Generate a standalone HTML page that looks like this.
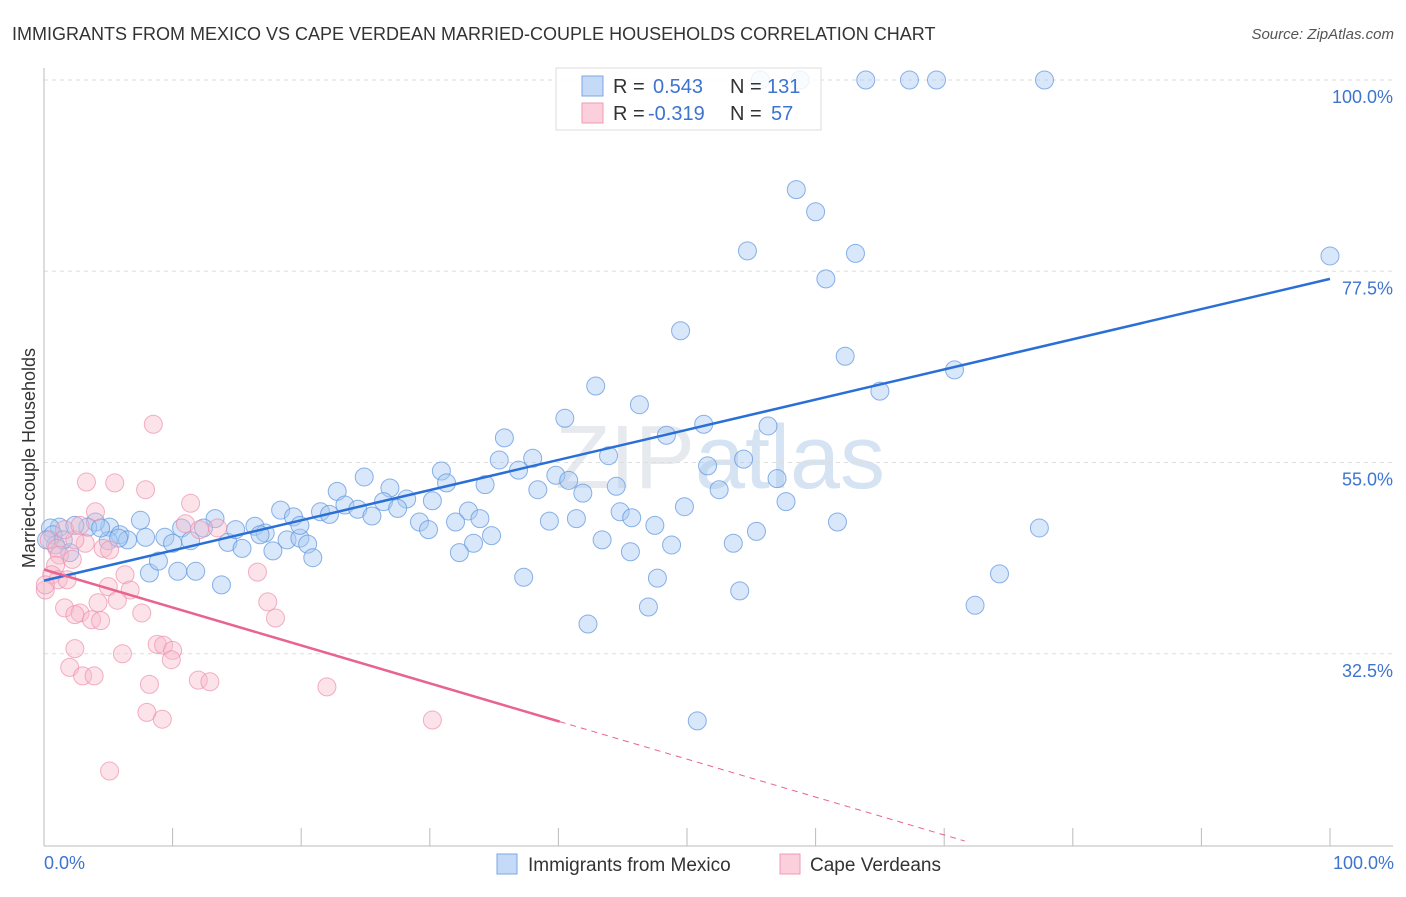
<!DOCTYPE html>
<html><head><meta charset="utf-8"><style>
body{margin:0;background:#fff;font-family:"Liberation Sans",sans-serif;}
svg text{font-family:"Liberation Sans",sans-serif;}
</style></head><body>
<svg id="chart" width="1406" height="892" xmlns="http://www.w3.org/2000/svg">
<text x="12" y="40" font-size="18" fill="#333">IMMIGRANTS FROM MEXICO VS CAPE VERDEAN MARRIED-COUPLE HOUSEHOLDS CORRELATION CHART</text>
<text x="1394" y="39" font-size="15" fill="#555" font-style="italic" text-anchor="end">Source: ZipAtlas.com</text>
<text x="720" y="488" font-size="90" fill="#e6e9ee" text-anchor="middle" font-family="Liberation Serif">ZIP<tspan fill="#d5e3f3" font-family="Liberation Sans">atlas</tspan></text>
<g id="grid"></g>
<g id="axes"></g>
<g id="points"></g>
<g id="trends"></g>
<text transform="translate(35,458) rotate(-90)" font-size="18" fill="#333" text-anchor="middle">Married-couple Households</text>
<text x="44" y="869" font-size="18" fill="#3d74d0">0.0%</text>
<text x="1394" y="869" font-size="18" fill="#3d74d0" text-anchor="end">100.0%</text>
<g>
<rect x="556" y="68" width="265" height="62" fill="#fff" fill-opacity="0.85" stroke="#ddd"/>
<rect x="582" y="76" width="21" height="20" fill="#c5daf6" stroke="#7aa8e6"/>
<rect x="582" y="103" width="21" height="20" fill="#fbd0dc" stroke="#f19bb5"/>
<text x="613" y="93" font-size="20" fill="#333">R = <tspan fill="#3d74d0" x="653">0.543</tspan><tspan x="730" fill="#333">N = </tspan><tspan fill="#3d74d0" x="767">131</tspan></text>
<text x="613" y="120" font-size="20" fill="#333">R = <tspan fill="#3d74d0" x="648">-0.319</tspan><tspan x="730" fill="#333">N = </tspan><tspan fill="#3d74d0" x="771">57</tspan></text>
</g>
<g>
<rect x="497" y="854" width="20" height="20" fill="#c5daf6" stroke="#7aa8e6"/>
<text x="528" y="871" font-size="19" fill="#333">Immigrants from Mexico</text>
<rect x="780" y="854" width="20" height="20" fill="#fbd0dc" stroke="#f19bb5"/>
<text x="810" y="871" font-size="19" fill="#333">Cape Verdeans</text>
</g>
</svg>
<script>
const yTicks=[100,77.5,55,32.5];
const yTickLabels=["100.0%","77.5%","55.0%","32.5%"];
const blueX=[55.7,58.8,63.9,67.3,69.4,77.8,58.5,60.0,54.7,63.1,100,60.8,49.5,62.3,70.8,65.0,42.9,46.3,40.5,51.3,56.3,48.4,35.8,35.4,38.0,43.9,54.4,51.6,36.9,39.8,40.8,57.0,30.9,31.3,34.3,38.4,41.9,52.5,57.7,49.8,44.5,22.8,24.9,26.9,28.2,30.2,26.4,27.5,23.4,24.4,21.5,22.2,18.4,19.4,33.0,29.2,32.0,33.9,39.3,41.4,44.8,45.7,25.5,29.9,47.5,61.7,77.4,55.4,43.4,48.8,53.6,45.6,34.8,33.4,32.3,47.7,37.3,42.3,47.0,54.1,72.4,74.3,50.8,13.3,16.4,12.4,10.7,7.5,7.9,5.1,4.0,3.4,1.2,0.5,2.4,5.9,6.5,5.0,9.4,10.0,11.4,14.3,15.4,17.2,16.8,18.9,19.9,20.5,17.8,20.9,8.2,8.9,10.4,11.8,13.8,0.7,0.9,2.0,0.2,1.5,4.4,5.8,14.9,19.9];
const blueY=[100,100,100,100,100,100,87.1,84.5,79.9,79.6,79.3,76.6,70.5,67.5,65.9,63.4,64.0,61.8,60.2,59.5,59.3,58.2,57.9,55.3,55.5,55.8,55.4,54.6,54.1,53.5,52.9,53.1,54.0,52.6,52.4,51.8,51.4,51.8,50.4,49.8,52.2,51.6,53.3,52.0,50.7,50.5,50.4,49.6,50.0,49.5,49.2,48.9,49.4,48.6,49.3,48.0,48.0,48.4,48.1,48.4,49.2,48.5,48.7,47.1,47.6,48.0,47.3,46.9,45.9,45.3,45.5,44.5,46.4,45.5,44.4,41.4,41.5,36.0,38.0,39.9,38.2,41.9,24.6,48.4,47.5,47.3,47.3,48.2,46.2,47.4,48.0,47.4,47.4,47.3,47.6,46.5,45.9,45.8,46.2,45.5,45.8,45.6,44.9,46.7,46.5,45.9,46.1,45.4,44.6,43.8,42.0,43.4,42.2,42.2,40.6,46.5,45.3,44.4,45.9,45.9,47.3,46.1,47.1,47.6];
const pinkX=[8.5,3.3,5.5,7.9,11.4,4.0,11.0,13.5,0.4,1.0,1.2,2.2,3.2,4.6,5.1,2.4,1.6,2.8,0.9,0.6,1.1,1.8,0.1,6.3,5.0,6.7,5.7,4.2,1.6,2.8,3.7,4.4,2.4,7.6,8.8,9.3,10.0,9.9,6.1,2.4,2.0,3.0,3.9,8.2,12.0,12.9,8.0,9.2,5.1,16.6,17.4,18.0,22.0,30.2,12.1,0.1];
const pinkY=[59.5,52.7,52.6,51.8,50.2,49.2,47.8,47.3,45.9,44.9,44.1,43.6,45.5,44.9,44.7,45.9,47.1,47.6,42.9,41.8,41.2,41.2,40.0,41.8,40.4,40.0,38.8,38.5,37.9,37.3,36.5,36.4,37.1,37.3,33.6,33.5,32.9,31.8,32.5,33.1,30.9,29.9,29.9,28.9,29.4,29.2,25.6,24.8,18.7,42.1,38.6,36.7,28.6,24.7,47.1,40.6];
const blueTrend=[41.1,76.6];
const pinkTrend=[42.4,-0.446];
const pinkSolidEnd=40.1, pinkDashEnd=71.6;

const NS="http://www.w3.org/2000/svg";
function sx(v){return 44+v*12.86;}
function sy(v){return 80+(100-v)*8.5;}
function mk(tag,attrs,parent){const e=document.createElementNS(NS,tag);for(const k in attrs)e.setAttribute(k,attrs[k]);parent.appendChild(e);return e;}
const grid=document.getElementById('grid'),axes=document.getElementById('axes'),pts=document.getElementById('points'),tr=document.getElementById('trends');
yTicks.forEach((t,i)=>{
  const l=mk('line',{x1:44,x2:1393,y1:sy(t),y2:sy(t),stroke:'#ddd','stroke-dasharray':'4,4'},grid);
  
  
  const tx=mk('text',{x:1393,y:sy(t)+23,'font-size':18,fill:'#3d74d0','text-anchor':'end'},grid);
  tx.textContent=yTickLabels[i];
  
  
});
const ya=mk('line',{x1:44,x2:44,y1:68,y2:846,stroke:'#bbb'},axes);


const xa=mk('line',{x1:44,x2:1393,y1:846,y2:846,stroke:'#bbb'},axes);


for(let i=1;i<=10;i++){const t=mk('line',{x1:sx(i*10),x2:sx(i*10),y1:828,y2:846,stroke:'#bbb'},axes);
  
  }
blueX.forEach((x,i)=>{const c=mk('circle',{cx:sx(x),cy:sy(blueY[i]),r:9,fill:'#a9c9f1','fill-opacity':0.45,stroke:'#5b93de','stroke-opacity':0.7,'stroke-width':1},pts);
  
  });
pinkX.forEach((x,i)=>{const c=mk('circle',{cx:sx(x),cy:sy(pinkY[i]),r:9,fill:'#f7b8cb','fill-opacity':0.4,stroke:'#ee8fac','stroke-opacity':0.7,'stroke-width':1},pts);
  
  });
const bl=mk('line',{x1:sx(0),y1:sy(blueTrend[0]),x2:sx(100),y2:sy(blueTrend[1]),stroke:'#2a6fd6','stroke-width':2.5},tr);


const pl=mk('line',{x1:sx(0),y1:sy(pinkTrend[0]),x2:sx(pinkSolidEnd),y2:sy(pinkTrend[0]+pinkTrend[1]*pinkSolidEnd),stroke:'#e8638f','stroke-width':2.5},tr);


const pd=mk('line',{x1:sx(pinkSolidEnd),y1:sy(pinkTrend[0]+pinkTrend[1]*pinkSolidEnd),x2:sx(pinkDashEnd),y2:sy(pinkTrend[0]+pinkTrend[1]*pinkDashEnd),stroke:'#e8638f','stroke-width':1,'stroke-dasharray':'6,5'},tr);


</script>
</body></html>
